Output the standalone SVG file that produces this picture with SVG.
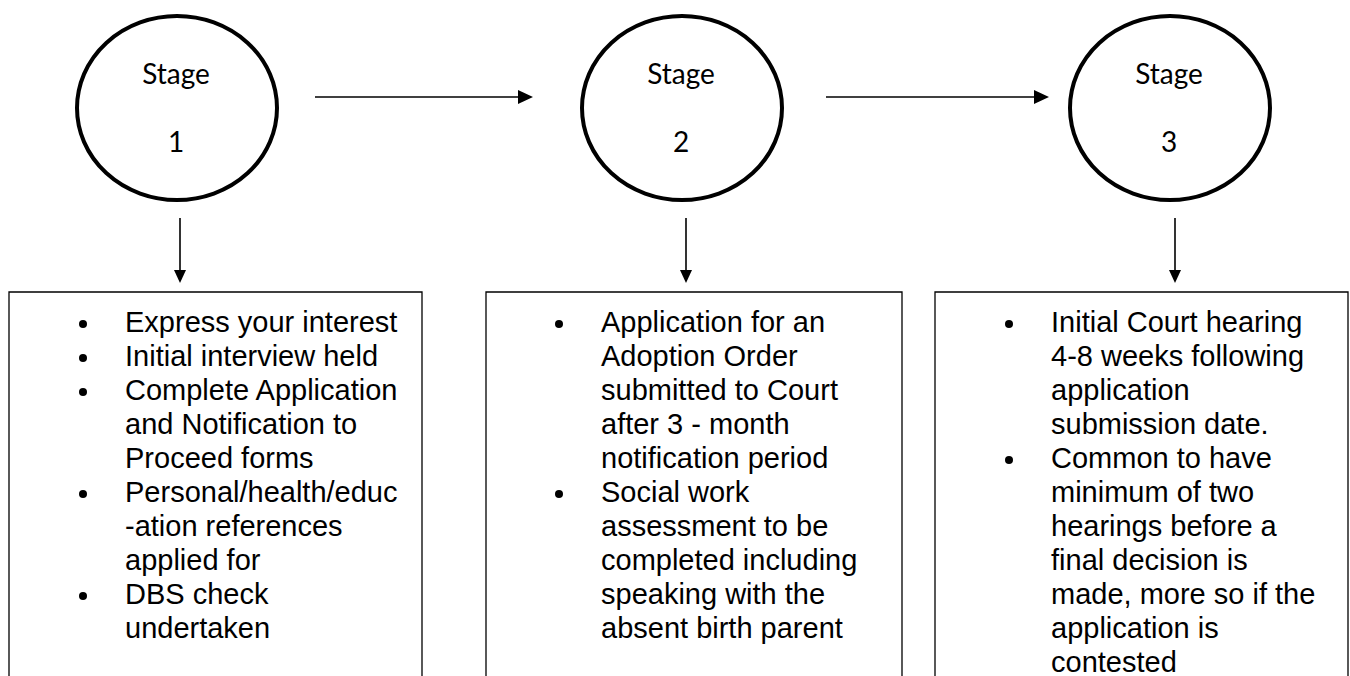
<svg xmlns="http://www.w3.org/2000/svg" width="1350" height="676" viewBox="0 0 1350 676">
<style>
.stage{fill:#fff;stroke:#000;stroke-width:4}
.st{font-family:Lato,"Liberation Sans",sans-serif;font-size:28px;fill:#000;text-anchor:middle}
.box{fill:#fff;stroke:#000;stroke-width:1.3}
.bt{font-family:"Liberation Sans",Arial,sans-serif;font-size:29px;fill:#000}
.bul{fill:#000}
.conn{stroke:#000;stroke-width:1.6;fill:none}
.head{fill:#000}
</style>
<rect width="1350" height="676" fill="#fff"/>
<g id="stage1">
<ellipse class="stage" cx="177" cy="108" rx="100" ry="92"/>
<text class="st" x="176" y="84">Stage</text>
<text class="st" x="176" y="152">1</text>
</g>
<g id="stage2">
<ellipse class="stage" cx="682" cy="108" rx="100" ry="92"/>
<text class="st" x="681" y="84">Stage</text>
<text class="st" x="681" y="152">2</text>
</g>
<g id="stage3">
<ellipse class="stage" cx="1170" cy="108" rx="100" ry="92"/>
<text class="st" x="1169" y="84">Stage</text>
<text class="st" x="1169" y="152">3</text>
</g>
<g id="connectors">
<line class="conn" x1="315" y1="97" x2="520" y2="97"/>
<path class="head" d="M518,90 L533,97 L518,104 z"/>
<line class="conn" x1="826" y1="97" x2="1036" y2="97"/>
<path class="head" d="M1034,90 L1049,97 L1034,104 z"/>
<line class="conn" x1="180" y1="218" x2="180" y2="272"/>
<path class="head" d="M174,270 L180,283 L186,270 z"/>
<line class="conn" x1="686" y1="218" x2="686" y2="272"/>
<path class="head" d="M680,270 L686,283 L692,270 z"/>
<line class="conn" x1="1175" y1="218" x2="1175" y2="272"/>
<path class="head" d="M1169,270 L1175,283 L1181,270 z"/>
</g>
<g id="box1">
<path class="box" d="M9,680 L9,292 L422,292 L422,680"/>
<circle class="bul" cx="83" cy="324" r="4"/>
<circle class="bul" cx="83" cy="358" r="4"/>
<circle class="bul" cx="83" cy="392" r="4"/>
<circle class="bul" cx="83" cy="494" r="4"/>
<circle class="bul" cx="83" cy="596" r="4"/>
<text class="bt" x="125" y="332">Express your interest</text>
<text class="bt" x="125" y="366">Initial interview held</text>
<text class="bt" x="125" y="400">Complete Application</text>
<text class="bt" x="125" y="434">and Notification to</text>
<text class="bt" x="125" y="468">Proceed forms</text>
<text class="bt" x="125" y="502">Personal/health/educ</text>
<text class="bt" x="125" y="536">-ation references</text>
<text class="bt" x="125" y="570">applied for</text>
<text class="bt" x="125" y="604">DBS check</text>
<text class="bt" x="125" y="638">undertaken</text>
</g>
<g id="box2">
<path class="box" d="M486,680 L486,292 L902,292 L902,680"/>
<circle class="bul" cx="559" cy="324" r="4"/>
<circle class="bul" cx="559" cy="494" r="4"/>
<text class="bt" x="601" y="332">Application for an</text>
<text class="bt" x="601" y="366">Adoption Order</text>
<text class="bt" x="601" y="400">submitted to Court</text>
<text class="bt" x="601" y="434">after 3 - month</text>
<text class="bt" x="601" y="468">notification period</text>
<text class="bt" x="601" y="502">Social work</text>
<text class="bt" x="601" y="536">assessment to be</text>
<text class="bt" x="601" y="570">completed including</text>
<text class="bt" x="601" y="604">speaking with the</text>
<text class="bt" x="601" y="638">absent birth parent</text>
</g>
<g id="box3">
<path class="box" d="M935,680 L935,292 L1348,292 L1348,680"/>
<circle class="bul" cx="1009" cy="324" r="4"/>
<circle class="bul" cx="1009" cy="460" r="4"/>
<text class="bt" x="1051" y="332">Initial Court hearing</text>
<text class="bt" x="1051" y="366">4-8 weeks following</text>
<text class="bt" x="1051" y="400">application</text>
<text class="bt" x="1051" y="434">submission date.</text>
<text class="bt" x="1051" y="468">Common to have</text>
<text class="bt" x="1051" y="502">minimum of two</text>
<text class="bt" x="1051" y="536">hearings before a</text>
<text class="bt" x="1051" y="570">final decision is</text>
<text class="bt" x="1051" y="604">made, more so if the</text>
<text class="bt" x="1051" y="638">application is</text>
<text class="bt" x="1051" y="672">contested</text>
</g>
</svg>
